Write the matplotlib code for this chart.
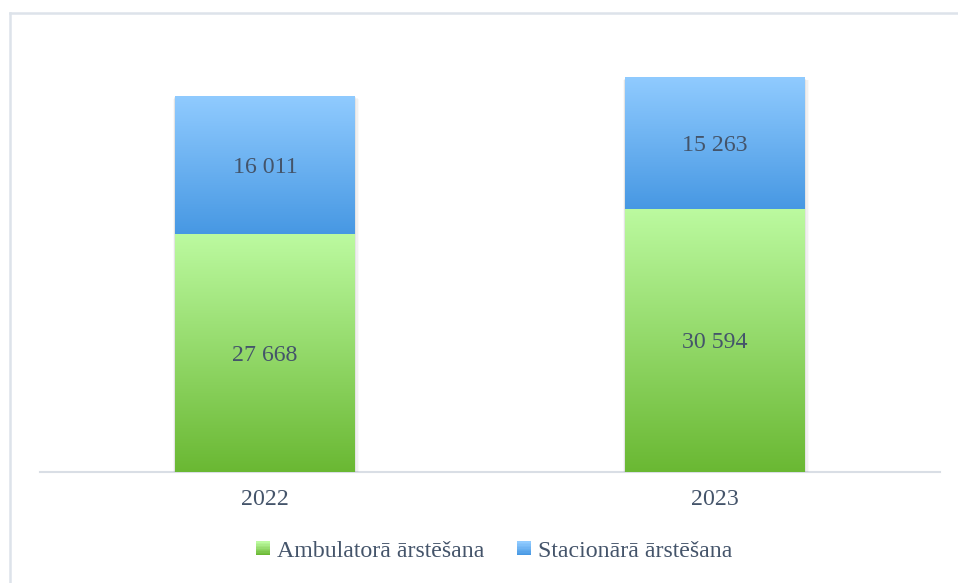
import numpy as np
import matplotlib
matplotlib.use("Agg")
import matplotlib.pyplot as plt
from matplotlib.colors import LinearSegmentedColormap
from matplotlib.legend_handler import HandlerBase
from matplotlib.patches import Rectangle
from matplotlib.lines import Line2D

# ── Data ────────────────────────────────────────────────────────────────
years = ["2022", "2023"]
ambulatory = [27668, 30594]
inpatient = [16011, 15263]
series_labels = ["Ambulatorā ārstēšana", "Stacionārā ārstēšana"]

# gradient ends (bottom colour, top colour)
GREEN = ("#6ab833", "#bcfaa0")
BLUE = ("#4798e3", "#90cbff")
TEXT = "#44546a"
FS = 17.2

plt.rcParams["font.family"] = ["Liberation Serif", "DejaVu Serif"]


def fmt(v):
    return f"{v:,}".replace(",", " ")


def gradient_bar(ax, x, bottom, height, width, colors):
    cmap = LinearSegmentedColormap.from_list("g", list(colors))
    grad = np.linspace(0, 1, 256).reshape(-1, 1)
    ax.imshow(grad, cmap=cmap, origin="lower", aspect="auto",
              extent=(x - width / 2, x + width / 2, bottom, bottom + height),
              zorder=3, interpolation="bicubic")


class GradientHandler(HandlerBase):
    def __init__(self, colors, **kw):
        super().__init__(**kw)
        self.colors = colors

    def create_artists(self, legend, orig_handle, xdescent, ydescent,
                       width, height, fontsize, trans):
        cmap = LinearSegmentedColormap.from_list("g", list(self.colors))
        size = height * 0.8
        x0 = -xdescent + width - size
        y0 = -ydescent + (height - size) / 2
        n = 10
        arts = []
        for i in range(n):
            r = Rectangle((x0, y0 + size * i / n), size, size / n + 0.3,
                          facecolor=cmap(i / (n - 1)), edgecolor="none",
                          transform=trans)
            arts.append(r)
        return arts


fig = plt.figure(figsize=(9.58, 5.83), dpi=100)
ax = fig.add_axes([40 / 958, (583 - 472) / 583, 900 / 958, 430 / 583])

width = 0.4
xs = np.arange(len(years))
for x, a, s in zip(xs, ambulatory, inpatient):
    total = a + s
    # soft glow shadow around each bar
    for k, alpha in enumerate([0.05, 0.035, 0.025]):
        dx = 0.003 + 0.003 * k
        dy = 250 + 200 * k
        ax.add_patch(Rectangle((x - width / 2 - dx * 0.5, -dy), width + dx * 1.5,
                               total + dy * 0.5,
                               facecolor="black", alpha=alpha, edgecolor="none", zorder=2))
    gradient_bar(ax, x, 0, a, width, GREEN)
    gradient_bar(ax, x, a, s, width, BLUE)
    ax.text(x, a / 2, fmt(a), ha="center", va="center_baseline", fontsize=FS,
            color=TEXT, zorder=5)
    ax.text(x, a + s / 2, fmt(s), ha="center", va="center_baseline", fontsize=FS,
            color=TEXT, zorder=5)

ax.set_xlim(-0.5, len(years) - 0.5)
ax.set_ylim(0, 50000)
ax.set_xticks(xs)
ax.set_xticklabels(years, fontsize=FS, color=TEXT)
ax.tick_params(axis="x", length=0, pad=12)
ax.set_yticks([])
for side in ["top", "right", "left"]:
    ax.spines[side].set_visible(False)
ax.spines["bottom"].set_color("#d9dee5")
ax.spines["bottom"].set_linewidth(1.5)
ax.spines["bottom"].set_zorder(1)

handles = [Rectangle((0, 0), 1, 1), Rectangle((0, 1), 1, 1)]
leg = fig.legend(handles, series_labels, loc="center",
                 bbox_to_anchor=(495 / 958, 1 - 551 / 583), ncol=2,
                 frameon=False, fontsize=FS, labelcolor=TEXT,
                 handlelength=0.5, handletextpad=0.3, columnspacing=1.45,
                 handler_map={handles[0]: GradientHandler(GREEN),
                              handles[1]: GradientHandler(BLUE)})

# outer frame (top and left edges)
border = "#dde3ea"
fig.add_artist(Line2D([9.5 / 958, 957 / 958], [1 - 12.5 / 583, 1 - 12.5 / 583],
                      transform=fig.transFigure, color=border, lw=1.8))
fig.add_artist(Line2D([9.5 / 958, 9.5 / 958], [0, 1 - 12.5 / 583],
                      transform=fig.transFigure, color=border, lw=1.8))

fig.savefig("out.png", dpi=100)
